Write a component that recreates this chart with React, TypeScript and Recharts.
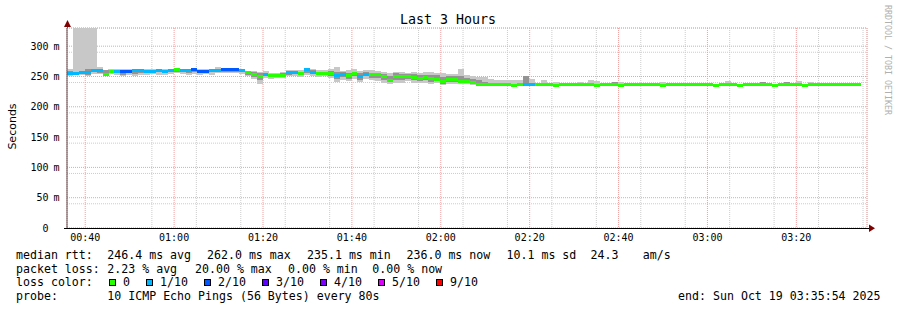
import React from 'react';
import { ComposedChart, Bar, Cell, XAxis, YAxis, CartesianGrid } from 'recharts';

// ---- data ----
const START_TIME = '00:35:54';
const STEP_SECONDS = 80;
const WINDOW_MINUTES = 180;
const timeTickLabels = ['00:40', '01:00', '01:20', '01:40', '02:00', '02:20', '02:40', '03:00', '03:20'];
const valueTicks = [0, 50, 100, 150, 200, 250, 300];

// median round-trip time per 80 s step (ms)
const median = [
  255, 255, 256, 257, 260, 260, 254, 259, 259, 258,
  259, 260, 260, 259, 259, 260, 259, 260, 261, 260,
  260, 261, 259, 259, 260, 260, 261, 261, 261, 260,
  256, 253, 250, 253, 251, 251, 252, 257, 257, 255,
  261, 257, 255, 255, 255, 252, 253, 251, 255, 250,
  254, 253, 253, 250, 244, 250, 250, 250, 249, 247,
  249, 246, 245, 241, 245, 245, 242, 242, 240, 237,
  237, 237, 236.5, 236, 236, 235.5, 236, 236, 236, 236.5,
  236, 236, 235.5, 236, 236.5, 236, 236, 236.5, 236, 235.5,
  236, 236, 236, 235.5, 236, 236, 236.5, 236, 236, 236,
  235.5, 236, 236, 236, 236.5, 236, 236, 236, 236, 235.5,
  236, 236, 236, 235.5, 236, 236, 236.5, 236, 236, 235.5,
  236, 236, 236, 236, 235.5, 236, 236.5, 236, 236, 236,
  236, 236, 236, 236,
];

// lost pings out of 10 per step
const loss = [
  1, 1, 1, 1, 1, 1, 0, 0, 1, 2,
  2, 1, 1, 1, 1, 1, 1, 1, 0, 1,
  1, 2, 2, 2, 1, 1, 2, 2, 2, 1,
  0, 0, 0, 1, 0, 0, 0, 1, 1, 0,
  1, 1, 0, 0, 0, 1, 1, 0, 0, 1,
  1, 0, 0, 0, 0, 0, 0, 0, 0, 0,
  0, 0, 0, 0, 0, 0, 0, 0, 0, 0,
  0, 0, 0, 0, 0, 0, 0, 1, 1, 0,
  0, 0, 0, 0, 0, 0, 0, 0, 0, 0,
  0, 0, 0, 0, 0, 0, 0, 0, 0, 0,
  0, 0, 0, 0, 0, 0, 0, 0, 0, 0,
  0, 0, 0, 0, 0, 0, 0, 0, 0, 0,
  0, 0, 0, 0, 0, 0, 0, 0, 0, 0,
  0, 0, 0, 0,
];

// smoke: lowest ping, inner low, inner high, highest ping (ms)
const smokeLow = [
  251, 252, 252, 250, 254, 254, 252, 254, 253, 251,
  253, 251, 253, 252, 254, 253, 253, 254, 255, 254,
  253, 254, 253, 254, 253, 255, 256, 256, 255, 254,
  250, 246, 238, 247, 246, 248, 247, 250, 251, 249,
  253, 251, 249, 250, 248, 241, 245, 243, 246, 241,
  246, 244, 243, 240, 238, 240, 240, 242, 240, 239,
  240, 238, 239, 236, 238, 238, 237, 238, 236, 235,
  235, 235, 235, 235, 235, 234.5, 235, 235, 235, 235,
  235, 235, 234.5, 235, 235, 235, 235, 235, 235, 234.5,
  235, 235, 235, 234.5, 235, 235, 235, 235, 235, 235,
  234.5, 235, 235, 235, 235, 235, 235, 235, 235, 234.5,
  235, 235, 235, 234.5, 235, 235, 235, 235, 235, 234.5,
  235, 235, 235, 235, 234.5, 235, 235, 235, 235, 235,
  235, 235, 235, 235,
];
const smokeInnerLow = [
  253, 253, 254, 252, 257, 256, 253, 256, 256, 253,
  256, 254, 256, 256, 256, 257, 256, 257, 258, 257,
  256, 257, 255, 256, 257, 257, 258, 258, 258, 257,
  252, 249, 244, 250, 249, 249, 250, 253, 254, 252,
  256, 254, 252, 252, 251, 246, 249, 246, 250, 245,
  250, 248, 247, 245, 241, 245, 245, 246, 244, 242,
  244, 241, 242, 238, 241, 241, 239, 240, 238, 236,
  236, 235.5, 235.5, 235.5, 235.5, 235.5, 235.5, 235.5, 235.5, 235.5,
  235.5, 235.5, 235.5, 235.5, 235.5, 235.5, 235.5, 235.5, 235.5, 235.5,
  235.5, 235.5, 235.5, 235.5, 235.5, 235.5, 235.5, 235.5, 235.5, 235.5,
  235.5, 235.5, 235.5, 235.5, 235.5, 235.5, 235.5, 235.5, 235.5, 235.5,
  235.5, 235.5, 235.5, 235.5, 235.5, 235.5, 235.5, 235.5, 235.5, 235.5,
  235.5, 235.5, 235.5, 235.5, 235.5, 235.5, 235.5, 235.5, 235.5, 235.5,
  235.5, 235.5, 235.5, 235.5,
];
const smokeInnerHigh = [
  259, 258, 258, 262, 262, 263, 260, 261, 261, 260,
  261, 261, 261, 261, 261, 261, 260, 261, 262, 261,
  261, 262, 261, 261, 261, 263, 262, 262, 262, 261,
  258, 257, 255, 256, 254, 254, 255, 259, 259, 258,
  262, 260, 258, 258, 259, 258, 257, 256, 258, 256,
  257, 256, 256, 254, 251, 255, 254, 254, 254, 252,
  253, 252, 252, 249, 250, 251, 250, 248, 246, 244,
  241, 237.5, 237.5, 237.5, 237.5, 237.5, 237.5, 250, 237.5, 237.5,
  237.5, 237.5, 237.5, 237.5, 237.5, 237.5, 237.5, 237.5, 237.5, 237.5,
  237.5, 237.5, 241, 237.5, 237.5, 237.5, 237.5, 237.5, 237.5, 237.5,
  237.5, 237.5, 237.5, 237.5, 237.5, 237.5, 237.5, 237.5, 237.5, 237.5,
  237.5, 237.5, 237.5, 237.5, 237.5, 237.5, 237.5, 241, 237.5, 237.5,
  237.5, 241, 237.5, 237.5, 237.5, 237.5, 237.5, 237.5, 237.5, 237.5,
  237.5, 237.5, 237.5, 237.5,
];
const smokeHigh = [
  262, 400, 400, 400, 400, 265, 261, 263, 262, 262,
  262, 262, 263, 262, 262, 262, 262, 262, 263, 262,
  262, 263, 262, 262, 262, 266, 263, 263, 263, 262,
  259, 259, 257, 259, 256, 256, 257, 261, 260, 260,
  264, 263, 261, 260, 262, 265, 259, 260, 262, 259,
  260, 260, 259, 258, 256, 257, 258, 256, 257, 256,
  258, 258, 256, 255, 254, 254, 263, 252, 250, 249,
  249, 246, 244, 244, 244, 244, 244, 250, 246, 238,
  245, 238, 241, 238, 238, 238, 241, 238, 244, 243,
  238, 238, 241, 241, 238, 238, 238, 238, 238, 238,
  241, 238, 238, 238, 238, 238, 238, 238, 238, 238,
  238, 243, 238, 238, 238, 238, 238, 241, 238, 238,
  238, 241, 238, 243, 238, 241, 238, 238, 238, 238,
  238, 238, 238, 238,
];

const lossLegend = [
  { label: '0', tenths: 0 },
  { label: '1/10', tenths: 1 },
  { label: '2/10', tenths: 2 },
  { label: '3/10', tenths: 3 },
  { label: '4/10', tenths: 4 },
  { label: '5/10', tenths: 5 },
  { label: '9/10', tenths: 9 },
];
const lossColors: Record<number, string> = {
  0: '#26ff00', 1: '#00b8ff', 2: '#0059ff', 3: '#5e00ff', 4: '#7e00ff', 5: '#dd00ff', 9: '#ff0000',
};

const statsLine1 = [
  'median rtt:', '246.4 ms avg', '262.0 ms max', '235.1 ms min', '236.0 ms now', '10.1 ms sd', '24.3', 'am/s',
];
const statsLine2 = ['packet loss:', '2.23 % avg', '20.00 % max', '0.00 % min', '0.00 % now'];
const probeText = '10 ICMP Echo Pings (56 Bytes) every 80s';
const endText = 'end: Sun Oct 19 03:35:54 2025';
const titleText = 'Last 3 Hours';
const yLabel = 'Seconds';
const watermark = 'RRDTOOL / TOBI OETIKER';

// ---- styling / layout ----
const MONO = '"DejaVu Sans Mono", monospace';
const SANS = '"DejaVu Sans", sans-serif';
const SMOKE_LIGHT = '#c8c8c8';
const SMOKE_MID = '#939393';
const LINE_HALF = 2.5; // half thickness of median line in ms units (~3px)
const Y_MAX = 330;
const W = 897;
const H = 310;
const line1X = [16, 107.3, 207, 307, 406.5, 506.5, 590.5, 642.7];
const line2X = [16, 107.3, 195, 288, 372.3];

const parseMin = (s: string) => {
  const p = s.split(':').map(Number);
  return p[0] * 60 + p[1] + (p[2] || 0) / 60;
};
const startMin = parseMin(START_TIME);
const majorTimeTicks = timeTickLabels.map((l) => parseMin(l) - startMin);
const minorTimeTicks: number[] = [];
for (let t = majorTimeTicks[0] - 5 * Math.floor(majorTimeTicks[0] / 5); t < WINDOW_MINUTES; t += 5) {
  if (!majorTimeTicks.some((m) => Math.abs(m - t) < 0.01)) minorTimeTicks.push(t);
}
const minorValueTicks: number[] = [];
for (let v = 10; v <= Y_MAX; v += 10) if (v % 50 !== 0) minorValueTicks.push(v);

const slotCount = (WINDOW_MINUTES * 60) / STEP_SECONDS;
const table = Array.from({ length: slotCount }, (_, i) => {
  const row: any = { slot: i, t: (i * STEP_SECONDS) / 60 };
  const m = median[i];
  if (m == null) return row;
  const mlo = m - LINE_HALF;
  const mhi = m + LINE_HALF;
  const lo = Math.min(smokeLow[i], mlo);
  const b1 = Math.max(lo, Math.min(smokeInnerLow[i], mlo));
  const b4 = Math.max(smokeInnerHigh[i], mhi);
  const b5 = Math.max(smokeHigh[i], b4);
  row.base = lo;
  row.lightLo = b1 - lo;
  row.midLo = mlo - b1;
  row.line = mhi - mlo;
  row.midHi = b4 - mhi;
  row.lightHi = b5 - b4;
  row.loss = loss[i];
  return row;
});

const ValueTick = (props: any) => {
  const { x, y, payload } = props;
  const v = payload.value;
  return (
    <g>
      <text x={x - 18.5} y={y + 3.6} textAnchor="end" fontFamily={MONO} fontSize={10} fill="#000">
        {String(v)}
      </text>
      {v !== 0 && (
        <text x={x - 13.5} y={y + 3.6} textAnchor="start" fontFamily={MONO} fontSize={10} fill="#000">
          m
        </text>
      )}
    </g>
  );
};

const TimeTick = (props: any) => {
  const { x, y, index } = props;
  return (
    <text x={x} y={y + 13} textAnchor="middle" fontFamily={MONO} fontSize={10} fill="#000">
      {timeTickLabels[index]}
    </text>
  );
};

const crisp = { shapeRendering: 'crispEdges' } as any;

export default function App() {
  let lx = 109;
  const legendItems = lossLegend.map((e) => {
    const item = { ...e, x: lx };
    lx += 14 + e.label.length * 7 + 16;
    return item;
  });
  return (
    <div style={{ position: 'absolute', left: 0, top: 0, width: W, height: H, background: '#fff' }}>
      <ComposedChart
        width={W}
        height={H}
        data={table}
        margin={{ top: 28, right: 30, bottom: 52, left: 0 }}
        barCategoryGap={0}
        barGap={0}
      >
        <XAxis
          xAxisId="time"
          dataKey="t"
          type="number"
          domain={[0, WINDOW_MINUTES]}
          ticks={majorTimeTicks}
          interval={0}
          allowDataOverflow
          height={30}
          tickSize={0}
          tickMargin={0}
          tickLine={false}
          axisLine={false}
          tick={<TimeTick />}
        />
        <XAxis xAxisId="cat" dataKey="slot" type="category" hide height={0} />
        <XAxis xAxisId="minor" dataKey="t" type="number" domain={[0, WINDOW_MINUTES]} ticks={minorTimeTicks} allowDataOverflow hide height={0} />
        <YAxis
          yAxisId="main"
          type="number"
          domain={[0, Y_MAX]}
          ticks={valueTicks}
          interval={0}
          allowDataOverflow
          width={67}
          tickSize={0}
          tickMargin={0}
          tickLine={false}
          axisLine={{ stroke: '#555' }}
          tick={<ValueTick />}
        />
        <YAxis yAxisId="minorY" type="number" domain={[0, Y_MAX]} ticks={minorValueTicks} allowDataOverflow hide width={0} />
        <CartesianGrid xAxisId="minor" yAxisId="minorY" stroke="#cccccc" strokeDasharray="1 1" fill="none" />
        <CartesianGrid xAxisId="time" yAxisId="main" stroke="#f2a0a0" strokeDasharray="1 1" fill="none" />
        <Bar xAxisId="cat" yAxisId="main" dataKey="base" stackId="s" fill="transparent" isAnimationActive={false} />
        <Bar xAxisId="cat" yAxisId="main" dataKey="lightLo" stackId="s" fill={SMOKE_LIGHT} isAnimationActive={false} style={crisp} />
        <Bar xAxisId="cat" yAxisId="main" dataKey="midLo" stackId="s" fill={SMOKE_MID} isAnimationActive={false} style={crisp} />
        <Bar xAxisId="cat" yAxisId="main" dataKey="line" stackId="s" isAnimationActive={false} style={crisp}>
          {table.map((r, i) => (
            <Cell key={i} fill={lossColors[r.loss ?? 0]} />
          ))}
        </Bar>
        <Bar xAxisId="cat" yAxisId="main" dataKey="midHi" stackId="s" fill={SMOKE_MID} isAnimationActive={false} style={crisp} />
        <Bar xAxisId="cat" yAxisId="main" dataKey="lightHi" stackId="s" fill={SMOKE_LIGHT} isAnimationActive={false} style={crisp} />
      </ComposedChart>
      <svg width={W} height={H} style={{ position: 'absolute', left: 0, top: 0, pointerEvents: 'none' }}>
        <text x={448} y={24} textAnchor="middle" fontFamily={MONO} fontSize={13.3} fill="#000">
          {titleText}
        </text>
        <text transform="translate(15.5,126.5) rotate(-90)" textAnchor="middle" fontFamily={SANS} fontSize={11} fill="#000">
          {yLabel}
        </text>
        <text transform="translate(885,5) rotate(90)" textAnchor="start" fontFamily={MONO} fontSize={8.3} fill="#b0b0b0">
          {watermark}
        </text>
        <line x1={67.5} y1={26} x2={67.5} y2={28} stroke="#555" />
        <polygon points="64,27 71,27 67.5,20" fill="#800000" />
        <line x1={64} y1={228.5} x2={869} y2={228.5} stroke="#000" />
        <polygon points="869,224.5 869,232 875,228.3" fill="#800000" />
        <g fontFamily={MONO} fontSize={11.6} fill="#000">
          {statsLine1.map((s, i) => (
            <text key={'a' + i} x={line1X[i]} y={259}>{s}</text>
          ))}
          {statsLine2.map((s, i) => (
            <text key={'b' + i} x={line2X[i]} y={272.7}>{s}</text>
          ))}
          <text x={16} y={286.4}>loss color:</text>
          {legendItems.map((e) => (
            <g key={e.label}>
              <rect x={e.x + 0.5} y={279.5} width={6} height={6} fill={lossColors[e.tenths]} stroke="#000" strokeWidth={1} />
              <text x={e.x + 14} y={286.4}>{e.label}</text>
            </g>
          ))}
          <text x={16} y={300}>probe:</text>
          <text x={107.3} y={300}>{probeText}</text>
          <text x={880.5} y={300} textAnchor="end">{endText}</text>
        </g>
      </svg>
    </div>
  );
}
